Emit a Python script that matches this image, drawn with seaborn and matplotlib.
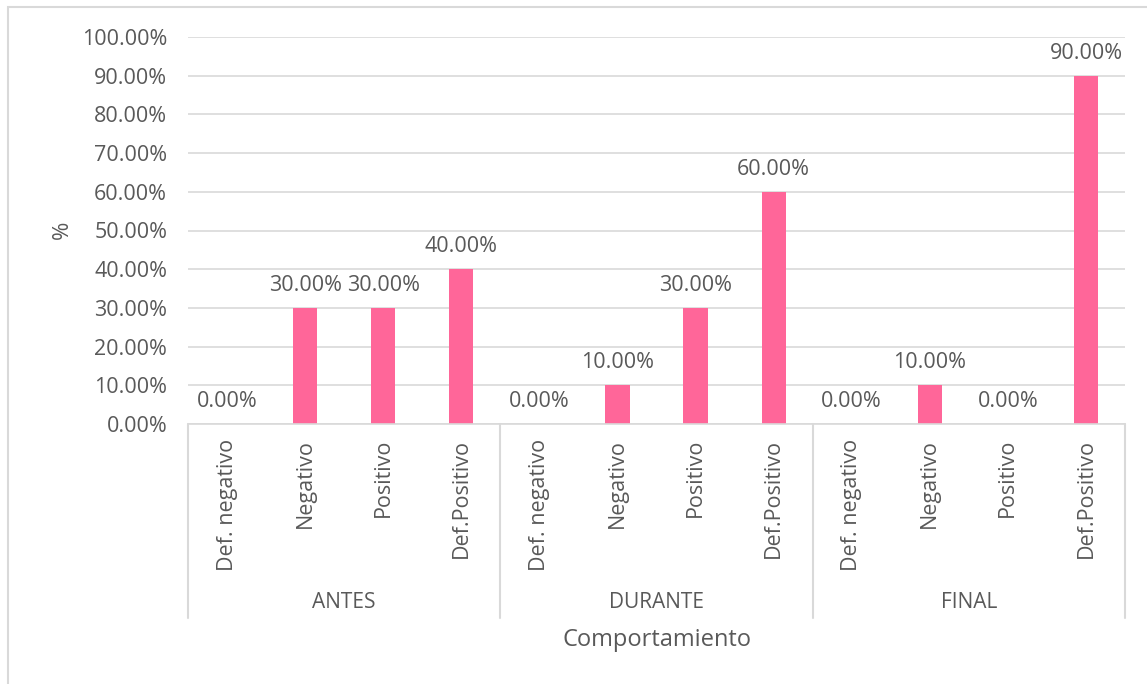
import matplotlib
matplotlib.use("Agg")
import matplotlib.pyplot as plt
from matplotlib.patches import Rectangle
import seaborn as sns
import pandas as pd

# Data: share of each behaviour level per stage
etapas = ["ANTES", "DURANTE", "FINAL"]
niveles = ["Def. negativo", "Negativo", "Positivo", "Def.Positivo"]
antes = [0.00, 0.30, 0.30, 0.40]
durante = [0.00, 0.10, 0.30, 0.60]
final = [0.00, 0.10, 0.00, 0.90]
y_ticks = [0.0, 0.1, 0.2, 0.3, 0.4, 0.5, 0.6, 0.7, 0.8, 0.9, 1.0]

valores = [antes, durante, final]
rows = []
for etapa, serie in zip(etapas, valores):
    for nivel, v in zip(niveles, serie):
        rows.append({"slot": f"{etapa}|{nivel}", "etapa": etapa, "nivel": nivel, "valor": v})
df = pd.DataFrame(rows)

sns.set_theme(style="white")
FONT = ["Open Sans", "DejaVu Sans"]
plt.rcParams["font.family"] = FONT
TXT = "#595959"
GRID = "#D9D9D9"
BAR = "#FF6699"
FS = 15

W, H = 1147, 684
fig = plt.figure(figsize=(W / 100, H / 100), dpi=100)
ax = fig.add_axes([188 / W, 1 - 424 / H, (1125 - 188) / W, (424 - 37) / H])

sns.barplot(data=df, x="slot", y="valor", order=list(df["slot"]), color=BAR,
            width=0.31, ax=ax, saturation=1, errorbar=None, linewidth=0)

ax.set_xlim(-0.5, len(df) - 0.5)
ax.set_ylim(0, 1.0)
ax.set_yticks(y_ticks)
ax.set_yticklabels([f"{t:.2%}" for t in y_ticks], color=TXT, fontsize=FS + 0.5)
ax.tick_params(axis="y", length=0, pad=15)
ax.set_xticks([])
ax.set_xlabel("")
ax.set_ylabel("")
ax.grid(axis="y", color=GRID, linewidth=1.2)
ax.set_axisbelow(True)
for s in ["left", "right", "top"]:
    ax.spines[s].set_visible(False)
ax.spines["bottom"].set_color(GRID)
ax.spines["bottom"].set_linewidth(1.2)

# Value labels above each bar
ax.bar_label(ax.containers[0], labels=[f"{v:.2%}" for v in df["valor"]],
             padding=8.5, color=TXT, fontsize=FS + 0.5)

# Two-level category axis drawn below the plot area
trans = ax.get_xaxis_transform()
px = 1.0 / (424 - 37)  # one pixel in axes-fraction units (vertical)
for i, nivel in enumerate(df["nivel"]):
    ax.text(i, -15 * px, nivel, rotation=90, ha="center", va="top",
            transform=trans, color=TXT, fontsize=FS + 0.5, clip_on=False)
n = len(niveles)
for g, etapa in enumerate(etapas):
    ax.text(g * n + (n - 1) / 2, -(602 - 424) * px, etapa, ha="center", va="center",
            transform=trans, color=TXT, fontsize=FS, clip_on=False)
for g in range(len(etapas) + 1):
    x = g * n - 0.5
    ax.plot([x, x], [0, -(618 - 424) * px], transform=trans, color=GRID,
            linewidth=1.5, clip_on=False)

fig.text((188 + 1125) / 2 / W, 1 - 640 / H, "Comportamiento", ha="center", va="center",
         color=TXT, fontsize=17)
fig.text(62 / W, 1 - 230 / H, "%", rotation=90, ha="center", va="center",
         color=TXT, fontsize=FS + 1)

# Chart frame
fig.patches.append(Rectangle((8 / W, -0.1), 1.2, 1 - 7 / H + 0.1, transform=fig.transFigure,
                             fill=False, edgecolor=GRID, linewidth=1.5))

fig.savefig("out.png", dpi=100, facecolor="white")
